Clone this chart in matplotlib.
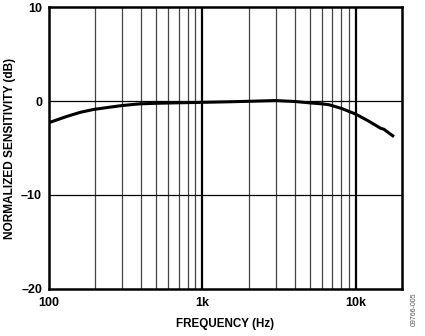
import numpy as np
import matplotlib.pyplot as plt
from matplotlib.ticker import FixedLocator, FixedFormatter, NullFormatter

plt.rcParams['font.family'] = ['Liberation Sans', 'DejaVu Sans']

# frequency response
freq = [100, 130, 160, 195, 250, 300, 390, 500, 640, 800, 1000, 1500, 2000,
        3000, 4000, 5200, 6000, 6700, 8100, 10000, 12000, 14500, 15200, 17400]
sens = [-2.3, -1.65, -1.2, -0.9, -0.65, -0.48, -0.3, -0.24, -0.2, -0.17, -0.14,
        -0.08, -0.03, 0.05, -0.05, -0.22, -0.3, -0.4, -0.8, -1.4, -2.1, -2.9,
        -3.0, -3.7]

x_ticks = [100, 1000, 10000]
x_labels = ['100', '1k', '10k']
y_ticks = [-20, -10, 0, 10]
y_labels = ['\u201320', '\u201310', '0', '10']

fig = plt.figure(figsize=(4.25, 3.36), dpi=100)
ax = fig.add_axes([0.1153, 0.14, 0.8307, 0.839])

ax.semilogx(freq, sens, color='black', lw=2.2, zorder=3)

ax.set_xlim(100, 20000)
ax.set_ylim(-20, 10)

# grid: minor verticals gray, decade lines black
minor = [m * d for d in (100, 1000) for m in range(2, 10)]
for f in minor:
    ax.axvline(f, color='#444444', lw=0.9, zorder=1)
for f in (1000, 10000):
    ax.axvline(f, color='black', lw=1.6, zorder=1)
for v in (-10, 0):
    ax.axhline(v, color='black', lw=0.9, zorder=1)

ax.xaxis.set_major_locator(FixedLocator(x_ticks))
ax.xaxis.set_major_formatter(FixedFormatter(x_labels))
ax.xaxis.set_minor_formatter(NullFormatter())
ax.set_yticks(y_ticks)
ax.set_yticklabels(y_labels)
ax.tick_params(which='both', length=0, labelsize=9)
ax.tick_params(axis='x', pad=6)
ax.tick_params(axis='y', pad=5)
for lab in ax.get_xticklabels() + ax.get_yticklabels():
    lab.set_fontweight('bold')

for s in ax.spines.values():
    s.set_linewidth(1.8)

ax.set_xlabel('FREQUENCY (Hz)', fontsize=8.4, fontweight='bold', labelpad=6)
ax.set_ylabel('NORMALIZED SENSITIVITY (dB)', fontsize=8.6, fontweight='bold',
              labelpad=4)

fig.text(0.975, 0.08, '09766-005', rotation=90, fontsize=5, color='#555555',
         ha='center', va='center')

fig.savefig('out.png', dpi=100)
